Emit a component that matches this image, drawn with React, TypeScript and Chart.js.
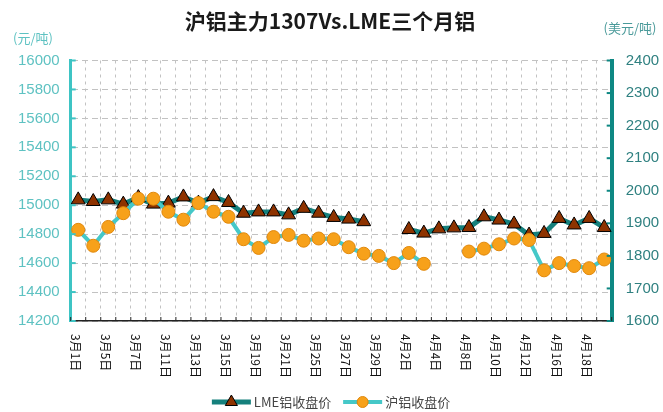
import React, { useEffect, useRef } from "react";
import { Chart, registerables } from "chart.js";
Chart.register(...registerables);

const TITLE = "沪铝主力1307Vs.LME三个月铝";
const LEFT_UNIT = "(元/吨)";
const RIGHT_UNIT = "(美元/吨)";

const categories = [
  "3月1日", "3月4日", "3月5日", "3月6日", "3月7日", "3月8日",
  "3月11日", "3月12日", "3月13日", "3月14日", "3月15日",
  "3月18日", "3月19日", "3月20日", "3月21日", "3月22日",
  "3月25日", "3月26日", "3月27日", "3月28日", "3月29日",
  "4月1日", "4月2日", "4月3日", "4月4日", "4月5日",
  "4月8日", "4月9日", "4月10日", "4月11日", "4月12日",
  "4月15日", "4月16日", "4月17日", "4月18日", "4月19日",
];

const xTickLabels = [
  "3月1日", "3月5日", "3月7日", "3月11日", "3月13日", "3月15日",
  "3月19日", "3月21日", "3月25日", "3月27日", "3月29日", "4月2日",
  "4月4日", "4月8日", "4月10日", "4月12日", "4月16日", "4月18日",
];

const lmeLabel = "LME铝收盘价";
const lmeValues = [
  1972, 1967, 1972, 1959, 1979, 1959,
  1962, 1981, 1962, 1982, 1964,
  1931, 1935, 1935, 1926, 1946,
  1931, 1918, 1913, 1905, null,
  null, 1881, 1870, 1883, 1886,
  1887, 1920, 1910, 1898, 1864,
  1869, 1915, 1895, 1915, 1887,
];

const shfeLabel = "沪铝收盘价";
const shfeValues = [
  14830, 14720, 14850, 14945, 15045, 15045,
  14955, 14900, 15015, 14955, 14920,
  14765, 14705, 14780, 14795, 14755,
  14770, 14765, 14710, 14665, 14650,
  14600, 14670, 14595, null, null,
  14680, 14700, 14730, 14770, 14760,
  14550, 14600, 14580, 14565, 14625,
];

const leftMin = 14200, leftMax = 16000, leftStep = 200;
const rightMin = 1600, rightMax = 2400, rightStep = 100;

const C = {
  lmeLine: "#15807C",
  lmeFill: "#8E3300",
  shfeLine: "#45C8C8",
  shfeFill: "#F7A11A",
  shfeBorder: "#E0880C",
  leftAxis: "#3EC4C4",
  leftText: "#5EC2C2",
  rightAxis: "#0E8883",
  rightText: "#2F8080",
  grid: "#C2C2C2",
};

const decorPlugin = {
  id: "decor",
  afterDraw(chart: any) {
    const ctx = chart.ctx as CanvasRenderingContext2D;
    const xs = chart.scales.x;
    const ys = chart.scales.y;
    const y1 = chart.scales.y1;
    const a = chart.chartArea;
    ctx.save();

    // title
    ctx.fillStyle = "#1a1a1a";
    ctx.font = 'bold 21px "Noto Sans CJK SC"';
    ctx.textAlign = "center";
    ctx.textBaseline = "middle";
    ctx.fillText(TITLE, 330, 21);

    // units
    ctx.font = '13px "Noto Sans CJK SC"';
    ctx.fillStyle = C.leftText;
    ctx.fillText(LEFT_UNIT, 33, 38);
    ctx.fillStyle = "#4A9A9A";
    ctx.fillText(RIGHT_UNIT, 630, 28);

    // inside ticks on y axes
    ctx.lineWidth = 2;
    ctx.strokeStyle = C.leftAxis;
    ys.ticks.forEach((t: any) => {
      const py = ys.getPixelForValue(t.value);
      ctx.beginPath();
      ctx.moveTo(a.left, py);
      ctx.lineTo(a.left + 5, py);
      ctx.stroke();
    });
    ctx.strokeStyle = C.rightAxis;
    y1.ticks.forEach((t: any) => {
      const py = y1.getPixelForValue(t.value);
      ctx.beginPath();
      ctx.moveTo(a.right, py);
      ctx.lineTo(a.right - 5, py);
      ctx.stroke();
    });

    // x boundary ticks (inside)
    ctx.strokeStyle = "#222";
    ctx.lineWidth = 1;
    const w = categories.length > 1 ? xs.getPixelForValue(1) - xs.getPixelForValue(0) : 0;
    for (let i = 0; i <= categories.length; i++) {
      const px = xs.getPixelForValue(0) - w / 2 + i * w;
      ctx.beginPath();
      ctx.moveTo(px, a.bottom);
      ctx.lineTo(px, a.bottom - 4);
      ctx.stroke();
    }

    // x labels rotated clockwise
    ctx.fillStyle = "#111";
    ctx.font = '12px "Noto Sans CJK SC"';
    ctx.textAlign = "left";
    ctx.textBaseline = "middle";
    categories.forEach((c, i) => {
      if (!xTickLabels.includes(c)) return;
      const px = xs.getPixelForValue(i);
      ctx.save();
      ctx.translate(px - 3, a.bottom + 13);
      ctx.rotate(Math.PI / 2);
      ctx.fillText(c, 0, 0);
      ctx.restore();
    });

    // legend (LME first, then SHFE)
    const items = [...chart.data.datasets].reverse();
    ctx.font = '13px "Noto Sans CJK SC"';
    const symW = 39, gapText = 3, gapItem = 12;
    const widths = items.map((d: any) => symW + gapText + ctx.measureText(d.label).width);
    const total = widths.reduce((s: number, v: number) => s + v, 0) + gapItem * (items.length - 1);
    let lx = 331 - total / 2;
    const ly = 402;
    items.forEach((d: any, k: number) => {
      ctx.strokeStyle = d.borderColor;
      ctx.lineWidth = d.borderWidth;
      ctx.beginPath();
      ctx.moveTo(lx, ly);
      ctx.lineTo(lx + symW, ly);
      ctx.stroke();
      const cx = lx + symW / 2;
      ctx.fillStyle = d.pointBackgroundColor;
      ctx.strokeStyle = d.pointBorderColor;
      ctx.lineWidth = 1;
      ctx.beginPath();
      if (d.pointStyle === "triangle") {
        const r = 7;
        ctx.moveTo(cx, ly - r);
        ctx.lineTo(cx + r * 0.866, ly + r / 2);
        ctx.lineTo(cx - r * 0.866, ly + r / 2);
        ctx.closePath();
      } else {
        ctx.arc(cx, ly, 5.5, 0, Math.PI * 2);
      }
      ctx.fill();
      ctx.stroke();
      ctx.fillStyle = "#444";
      ctx.textAlign = "left";
      ctx.textBaseline = "middle";
      ctx.fillText(d.label, lx + symW + gapText, ly);
      lx += widths[k] + gapItem;
    });

    ctx.restore();
  },
};

export default function App() {
  const ref = useRef<HTMLCanvasElement | null>(null);
  useEffect(() => {
    document.body.style.margin = "0";
    const canvas = ref.current;
    if (!canvas) return;
    const chart = new Chart(canvas, {
      type: "line",
      data: {
        labels: categories,
        datasets: [
          {
            label: shfeLabel,
            data: shfeValues,
            yAxisID: "y",
            borderColor: C.shfeLine,
            borderWidth: 4,
            pointStyle: "circle",
            pointRadius: 6.5,
            pointBackgroundColor: C.shfeFill,
            pointBorderColor: C.shfeBorder,
            pointBorderWidth: 1,
            tension: 0,
            spanGaps: false,
          } as any,
          {
            label: lmeLabel,
            data: lmeValues,
            yAxisID: "y1",
            borderColor: C.lmeLine,
            borderWidth: 5,
            pointStyle: "triangle",
            pointRadius: 8,
            pointBackgroundColor: C.lmeFill,
            pointBorderColor: "#000",
            pointBorderWidth: 1,
            tension: 0,
            spanGaps: false,
          } as any,
        ],
      },
      options: {
        responsive: false,
        animation: false,
        layout: { padding: { top: 60.5, left: 0, right: 0, bottom: 0 } },
        plugins: {
          legend: { display: false },
          title: { display: false },
          tooltip: { enabled: false },
        },
        scales: {
          x: {
            type: "category",
            offset: true,
            ticks: { display: false },
            grid: { offset: true, color: C.grid, lineWidth: 1, drawTicks: false },
            border: { display: true, color: "#222", width: 1.5, dash: [3, 4] },
            afterFit: (s: any) => { s.height = 91; },
          },
          y: {
            position: "left",
            min: leftMin,
            max: leftMax,
            ticks: {
              stepSize: leftStep,
              padding: 11,
              color: C.leftText,
              font: { family: '"Liberation Sans", Arial', size: 15 },
              callback: (v: any) => String(v),
            },
            grid: { color: C.grid, lineWidth: 1, drawTicks: false },
            border: { display: true, color: C.leftAxis, width: 3, dash: [6, 4] },
            afterFit: (s: any) => { s.width = 70.7; },
          },
          y1: {
            position: "right",
            min: rightMin,
            max: rightMax,
            ticks: {
              stepSize: rightStep,
              padding: 14,
              color: C.rightText,
              font: { family: '"Liberation Sans", Arial', size: 15 },
              callback: (v: any) => String(v),
            },
            grid: { display: false, drawTicks: false },
            border: { display: true, color: C.rightAxis, width: 4 },
            afterFit: (s: any) => { s.width = 51.3; },
          },
        },
      } as any,
      plugins: [decorPlugin],
    });
    return () => chart.destroy();
  }, []);
  return (
    <div style={{ width: 663, height: 412 }}>
      <canvas ref={ref} width={663} height={412} style={{ display: "block" }} />
    </div>
  );
}
